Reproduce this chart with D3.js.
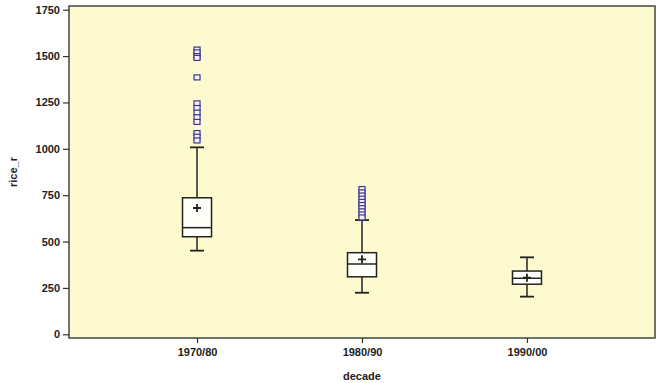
<!DOCTYPE html>
<html>
<head>
<meta charset="utf-8">
<script src="https://cdn.jsdelivr.net/npm/d3@7"></script>
<style>
  body { margin: 0; background: #fff; }
  text { font-family: "Liberation Sans", Arial, sans-serif; font-weight: bold; fill: #222; }
</style>
</head>
<body>
<div id="chart"></div>
<script>
const decades = ['1970/80', '1980/90', '1990/00'];
const whiskerLow = [451, 224, 203];
const q1 = [526, 310, 270];
const median = [575, 379, 302];
const q3 = [736, 440, 341];
const whiskerHigh = [1008, 616, 415];
const means = [681, 404, 305];
const outliers = [
  [1535, 1520, 1500, 1490, 1385, 1245, 1220, 1195, 1170, 1145, 1085, 1065, 1045],
  [783, 765, 748, 731, 714, 697, 680, 663, 646, 630],
  []
];
const yTicks = [0, 250, 500, 750, 1000, 1250, 1500, 1750];

const width = 661;
const height = 383;
const margin = { top: 6, right: 6, bottom: 45, left: 69 };

const svg = d3.select('#chart').append('svg')
  .attr('width', width)
  .attr('height', height);

const x = d3.scalePoint()
  .domain(decades)
  .range([margin.left, width - margin.right])
  .padding(0.776);

const y = d3.scaleLinear()
  .domain([-20, 1770])
  .range([height - margin.bottom, margin.top]);

// plot background
svg.append('rect')
  .attr('x', margin.left)
  .attr('y', margin.top)
  .attr('width', width - margin.left - margin.right)
  .attr('height', height - margin.top - margin.bottom)
  .attr('fill', '#fefad0')
  .attr('stroke', '#444')
  .attr('stroke-width', 1.5);

// y axis
const yAxis = svg.append('g')
  .attr('transform', `translate(${margin.left},0)`)
  .call(d3.axisLeft(y).tickValues(yTicks).tickFormat(d3.format('d')).tickSize(6).tickPadding(3));
yAxis.select('.domain').remove();
yAxis.selectAll('line').attr('stroke', '#333').attr('stroke-width', 1.2);
yAxis.selectAll('text').attr('font-size', 11).attr('fill', '#222');

// x axis
const xAxis = svg.append('g')
  .attr('transform', `translate(0,${height - margin.bottom})`)
  .call(d3.axisBottom(x).tickSize(5).tickPadding(5));
xAxis.select('.domain').remove();
xAxis.selectAll('line').attr('stroke', '#333').attr('stroke-width', 1.2);
xAxis.selectAll('text').attr('font-size', 11).attr('fill', '#222');

// axis titles
svg.append('text')
  .attr('x', x('1980/90'))
  .attr('y', 380)
  .attr('text-anchor', 'middle')
  .attr('font-size', 11)
  .text('decade');

svg.append('text')
  .attr('transform', `translate(17,${(margin.top + height - margin.bottom) / 2}) rotate(-90)`)
  .attr('text-anchor', 'middle')
  .attr('font-size', 11)
  .text('rice_r');

const boxW = 29;
const capW = 14;
const ink = '#222';

const boxes = svg.append('g').selectAll('g')
  .data(decades)
  .join('g')
  .attr('transform', d => `translate(${x(d)},0)`);

// whiskers
boxes.append('line')
  .attr('y1', (d, i) => y(whiskerLow[i]))
  .attr('y2', (d, i) => y(q1[i]))
  .attr('stroke', ink).attr('stroke-width', 1.5);
boxes.append('line')
  .attr('y1', (d, i) => y(q3[i]))
  .attr('y2', (d, i) => y(whiskerHigh[i]))
  .attr('stroke', ink).attr('stroke-width', 1.5);
boxes.append('line')
  .attr('x1', -capW / 2).attr('x2', capW / 2)
  .attr('y1', (d, i) => y(whiskerLow[i]))
  .attr('y2', (d, i) => y(whiskerLow[i]))
  .attr('stroke', ink).attr('stroke-width', 1.8);
boxes.append('line')
  .attr('x1', -capW / 2).attr('x2', capW / 2)
  .attr('y1', (d, i) => y(whiskerHigh[i]))
  .attr('y2', (d, i) => y(whiskerHigh[i]))
  .attr('stroke', ink).attr('stroke-width', 1.8);

// box
boxes.append('rect')
  .attr('x', -boxW / 2)
  .attr('width', boxW)
  .attr('y', (d, i) => y(q3[i]))
  .attr('height', (d, i) => y(q1[i]) - y(q3[i]))
  .attr('fill', '#fffffa')
  .attr('stroke', ink)
  .attr('stroke-width', 1.5);

// median
boxes.append('line')
  .attr('x1', -boxW / 2).attr('x2', boxW / 2)
  .attr('y1', (d, i) => y(median[i]))
  .attr('y2', (d, i) => y(median[i]))
  .attr('stroke', ink).attr('stroke-width', 1.5);

// mean plus
boxes.append('path')
  .attr('d', (d, i) => {
    const m = y(means[i]);
    return `M-4,${m}H4M0,${m - 4}V${m + 4}`;
  })
  .attr('stroke', ink).attr('stroke-width', 1.8);

// outliers
boxes.selectAll('rect.outlier')
  .data((d, i) => outliers[i])
  .join('rect')
  .attr('class', 'outlier')
  .attr('x', -3)
  .attr('y', v => y(v) - 2.5)
  .attr('width', 6)
  .attr('height', 5)
  .attr('fill', '#f4f2f8')
  .attr('stroke', '#3d3590')
  .attr('stroke-width', 1.2);
</script>
</body>
</html>
